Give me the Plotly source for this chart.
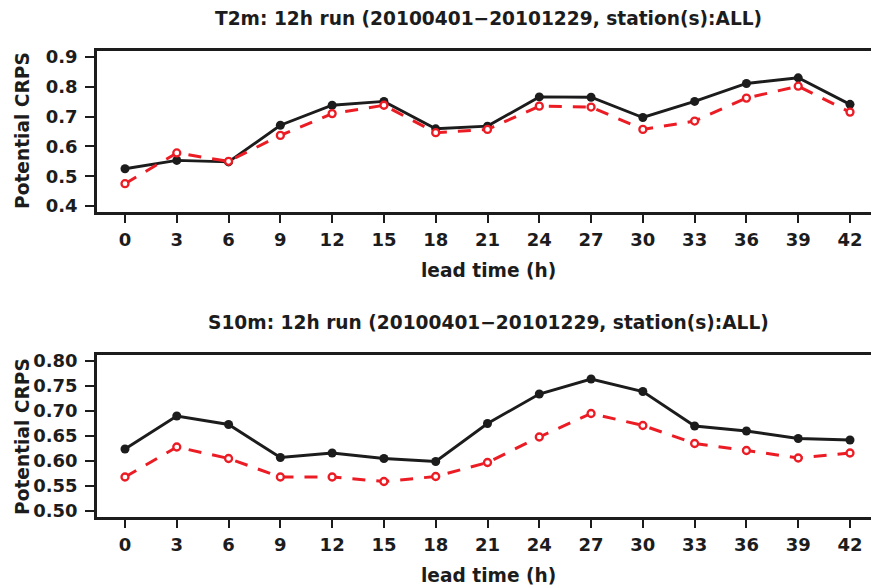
import plotly.graph_objects as go

lead = [0, 3, 6, 9, 12, 15, 18, 21, 24, 27, 30, 33, 36, 39, 42]
t2m_black = [0.525, 0.553, 0.548, 0.671, 0.738, 0.751, 0.659, 0.668, 0.766, 0.765, 0.697, 0.751, 0.811, 0.830, 0.741]
t2m_red = [0.475, 0.578, 0.550, 0.637, 0.710, 0.738, 0.646, 0.657, 0.735, 0.732, 0.657, 0.685, 0.762, 0.802, 0.715]
s10m_black = [0.624, 0.690, 0.673, 0.607, 0.616, 0.605, 0.599, 0.675, 0.734, 0.764, 0.739, 0.670, 0.660, 0.645, 0.642]
s10m_red = [0.568, 0.628, 0.605, 0.568, 0.568, 0.559, 0.569, 0.597, 0.648, 0.695, 0.671, 0.635, 0.621, 0.606, 0.616]
xticks = [0, 3, 6, 9, 12, 15, 18, 21, 24, 27, 30, 33, 36, 39, 42]
yticks_top = [0.4, 0.5, 0.6, 0.7, 0.8, 0.9]
yticks_bot = [0.50, 0.55, 0.60, 0.65, 0.70, 0.75, 0.80]
titles = ["T2m: 12h run (20100401\u221220101229, station(s):ALL)",
          "S10m: 12h run (20100401\u221220101229, station(s):ALL)"]
xlabel = "lead time (h)"
ylabel = "Potential CRPS"

W, H = 871, 587
ML = 97
PW = W - ML
FONT = "DejaVu Sans"
BLACK = "#1c1c1c"
RED = "#ec1c24"

def py(p):
    return 1 - p / H

def px(p):
    return (p - ML) / PW

fig = go.Figure()

for i, (b, r) in enumerate([(t2m_black, t2m_red), (s10m_black, s10m_red)]):
    xa = "x" if i == 0 else "x2"
    ya = "y" if i == 0 else "y2"
    fig.add_trace(go.Scatter(x=lead, y=b, xaxis=xa, yaxis=ya, mode="lines+markers",
                             line=dict(color=BLACK, width=2.9),
                             marker=dict(symbol="circle", size=9, color=BLACK),
                             showlegend=False, cliponaxis=False))
    fig.add_trace(go.Scatter(x=lead, y=r, xaxis=xa, yaxis=ya, mode="lines+markers",
                             line=dict(color=RED, width=3, dash="13px,11px"),
                             marker=dict(symbol="circle", size=7, color="white",
                                         line=dict(color=RED, width=2.3)),
                             showlegend=False, cliponaxis=False))

xr = [-1.622, -1.622 + PW / 17.262]
tickfont = dict(family=FONT, size=18, color=BLACK, weight="bold")

common_x = dict(range=xr, tickvals=xticks, ticktext=[str(v) for v in xticks],
                showline=True, mirror=True, linecolor=BLACK, linewidth=2.6,
                ticks="outside", ticklen=8, tickwidth=2, tickcolor=BLACK,
                showgrid=False, zeroline=False, tickfont=tickfont,
                ticklabelstandoff=2, domain=[0, 1], automargin=False)
common_y = dict(showline=True, mirror=False, linecolor=BLACK, linewidth=2.6,
                ticks="outside", ticklen=9, tickwidth=2, tickcolor=BLACK,
                showgrid=False, zeroline=False, tickfont=tickfont,
                ticklabelstandoff=4, automargin=False)

fig.update_layout(
    template="none",
    width=W, height=H,
    margin=dict(l=ML, r=0, t=0, b=0),
    paper_bgcolor="white", plot_bgcolor="white",
    xaxis=dict(common_x, anchor="y"),
    yaxis=dict(common_y, anchor="x", range=[0.38, 0.92], domain=[py(212), py(51)],
               tickvals=yticks_top, ticktext=["%.1f" % v for v in yticks_top]),
    xaxis2=dict(common_x, anchor="y2"),
    yaxis2=dict(common_y, anchor="x2", range=[0.488, 0.812], domain=[py(517), py(355)],
                tickvals=yticks_bot, ticktext=["%.2f" % v for v in yticks_bot]),
)

tfont = dict(family=FONT, size=18.6, color=BLACK, weight="bold")
ann = []
for t, yc in zip(titles, [18, 322]):
    ann.append(dict(text=t, x=px(488), y=py(yc), xref="paper", yref="paper",
                    showarrow=False, font=tfont, xanchor="center", yanchor="middle"))
for yc in [270, 575]:
    ann.append(dict(text=xlabel, x=px(488), y=py(yc), xref="paper", yref="paper",
                    showarrow=False, font=tfont, xanchor="center", yanchor="middle"))
for yc in [131, 437]:
    ann.append(dict(text=ylabel, x=px(22), y=py(yc), xref="paper", yref="paper",
                    showarrow=False, font=tfont, xanchor="center", yanchor="middle",
                    textangle=-90))
fig.update_layout(annotations=ann)

fig.write_html("out.html", config={"displayModeBar": False},
               post_script="document.body.style.margin='0px';document.body.style.overflow='hidden';")
